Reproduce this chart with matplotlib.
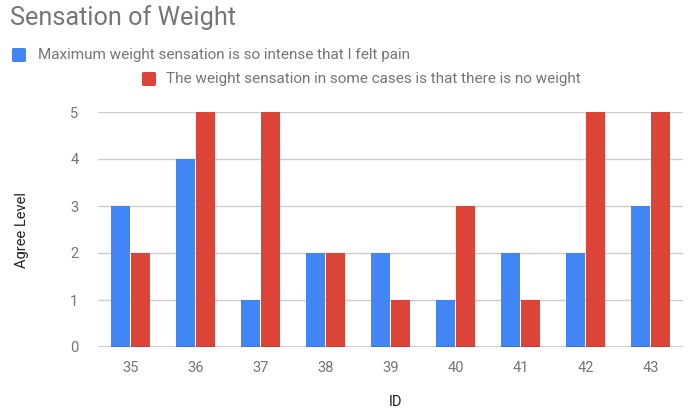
import matplotlib
matplotlib.use("Agg")
import matplotlib.pyplot as plt
import numpy as np
from matplotlib.patches import FancyBboxPatch

plt.rcParams['font.family'] = ['Roboto', 'DejaVu Sans']

ids = ['35', '36', '37', '38', '39', '40', '41', '42', '43']
pain = [3, 4, 1, 2, 2, 1, 2, 2, 3]
no_weight = [2, 5, 5, 2, 1, 3, 1, 5, 5]
series_names = ['Maximum weight sensation is so intense that I felt pain',
                'The weight sensation in some cases is that there is no weight']
colors = ['#4285F4', '#DB4437']

W, H = 695, 411
fig = plt.figure(figsize=(W/100, H/100), dpi=100)
ax = fig.add_axes([98/W, 1-347/H, (683-98)/W, (347-112)/H])

x = np.arange(len(ids))
bw = 0.29
gap = 0.015
ax.bar(x - bw/2 - gap, pain, bw, color=colors[0], zorder=3)
ax.bar(x + bw/2 + gap, no_weight, bw, color=colors[1], zorder=3)

ax.set_xlim(-0.5, len(ids)-0.5)
ax.set_ylim(0, 5)
ax.set_yticks(range(6))
ax.set_xticks(x)
ax.set_xticklabels(ids)
ax.grid(axis='y', color='#cccccc', linewidth=1, zorder=0)
ax.axhline(0, color='#333333', linewidth=1, zorder=4)
for s in ax.spines.values():
    s.set_visible(False)
ax.tick_params(length=0, colors='#757575', labelsize=10.5)
ax.tick_params(axis='y', pad=14)
ax.tick_params(axis='x', pad=10)

fig.text(395/W, 1-402/H, 'ID', ha='center', va='center', fontsize=10.5, color='#222222')
fig.text(22/W, 1-230/H, 'Agree Level', ha='center', va='center', rotation=90, fontsize=10.5, color='#222222')
fig.text(10/W, 1-18/H, 'Sensation of Weight', ha='left', va='center', fontsize=18.2, color='#757575')

# legend
for (sx, sy, tx), name, c in zip([(12, 48, 38), (142, 72, 166)], series_names, colors):
    fig.patches.append(FancyBboxPatch((sx/W, 1-(sy+14)/H), 14/W, 14/H, transform=fig.transFigure,
                                      boxstyle='round,pad=0,rounding_size=0.003',
                                      facecolor=c, edgecolor='none'))
    fig.text(tx/W, 1-(sy+7)/H, name, ha='left', va='center', fontsize=11, color='#757575')

fig.savefig('out.png', dpi=100)
